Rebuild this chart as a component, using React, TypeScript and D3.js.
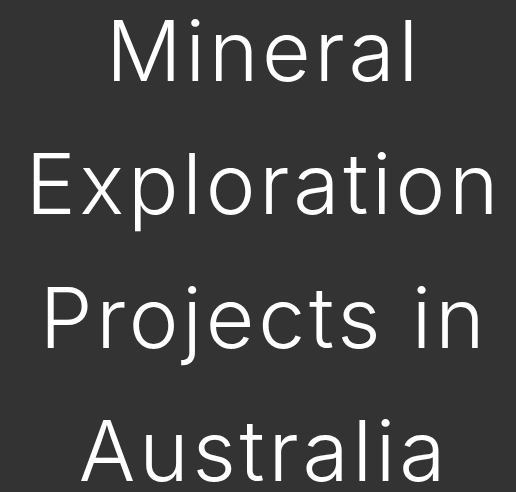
import React from "react";
import { scalePoint } from "d3";

const titleLines = ["Mineral", "Exploration", "Projects in", "Australia"];

const width = 516;
const height = 492;

export default function App() {
  const y = scalePoint<string>().domain(titleLines).range([81, 481]);

  return (
    <svg
      width={width}
      height={height}
      style={{ position: "absolute", left: 0, top: 0, display: "block" }}
    >
      <rect width={width} height={height} fill="#333333" />
      {titleLines.map((line) => (
        <text
          key={line}
          x={264}
          y={y(line)}
          textAnchor="middle"
          fill="#ffffff"
          style={{
            fontFamily: "Inter",
            fontSize: 84,
            fontWeight: 300,
            letterSpacing: 3.8,
          }}
        >
          {line}
        </text>
      ))}
    </svg>
  );
}
